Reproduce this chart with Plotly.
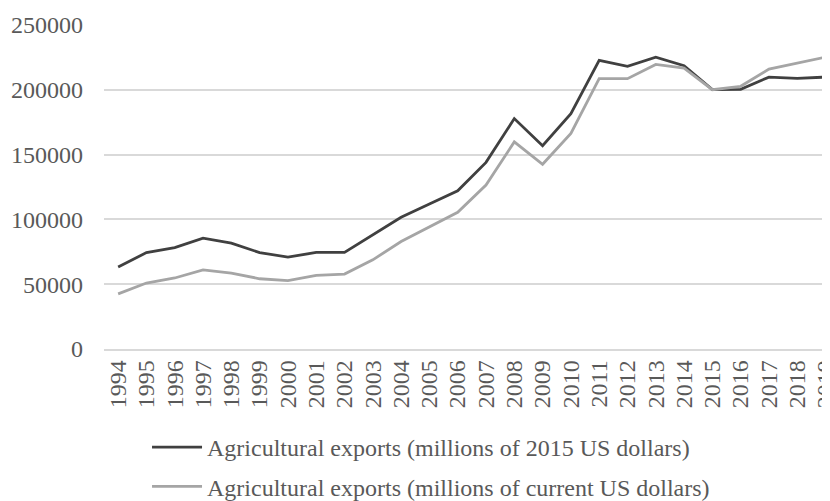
import plotly.graph_objects as go

years = [str(y) for y in range(1994, 2020)]
exports_2015_usd = [63200, 74400, 78300, 85500, 81700, 74400, 70900, 74500, 74500,
                    88000, 101700, 111900, 122100, 144000, 177800, 156800, 181500,
                    222700, 218100, 225200, 218600, 200100, 200400, 209800, 208800, 209800]
exports_current_usd = [42500, 50900, 54800, 61100, 58600, 54200, 52700, 56800, 57800,
                       68800, 82900, 94400, 105500, 126500, 159800, 142500, 166300,
                       208600, 208600, 219600, 216800, 200100, 202700, 216000, 220600, 225200]
y_ticks = [0, 50000, 100000, 150000, 200000, 250000]

font_family = "Liberation Serif"
text_color = "#595959"
fs = 24

fig = go.Figure()
fig.add_trace(go.Scatter(
    x=years, y=exports_2015_usd, mode="lines",
    name="Agricultural exports (millions of 2015 US dollars)",
    line=dict(color="#404040", width=2.8), legendgroup="a",
))
fig.add_trace(go.Scatter(
    x=years, y=exports_current_usd, mode="lines",
    name="Agricultural exports (millions of current US dollars)",
    line=dict(color="#a5a5a5", width=2.8), legendgroup="b",
))

fig.update_layout(
    width=830, height=501,
    margin=dict(l=96, r=0, t=16.5, b=159.5, pad=0, autoexpand=False),
    plot_bgcolor="white", paper_bgcolor="white",
    font=dict(family=font_family, size=fs, color=text_color),
    showlegend=True,
    legend=dict(
        orientation="v",
        xref="container", yref="container",
        x=0.1675, y=0.1677, xanchor="left", yanchor="top",
        font=dict(family=font_family, size=fs, color=text_color),
        itemwidth=50,
        tracegroupgap=5,
        traceorder="grouped",
        bgcolor="rgba(0,0,0,0)",
    ),
    xaxis=dict(
        type="category",
        range=[-0.5, 25.44],
        tickmode="array", tickvals=years, ticktext=years,
        tickangle=-90,
        showgrid=False,
        showline=True, linecolor="#d9d9d9", linewidth=1.5,
        ticks="", ticklabelstandoff=0,
        tickfont=dict(family=font_family, size=fs, color=text_color),
        fixedrange=True,
    ),
    yaxis=dict(
        range=[0, 250000],
        tickvals=y_ticks,
        ticktext=[str(v) for v in y_ticks],
        showgrid=True, gridcolor="#d9d9d9", gridwidth=1.5,
        zeroline=True, zerolinecolor="#d9d9d9", zerolinewidth=1.5,
        ticks="", ticklabelstandoff=20,
        tickfont=dict(family=font_family, size=fs, color=text_color),
        fixedrange=True,
    ),
)

fig.write_html("out.html")
